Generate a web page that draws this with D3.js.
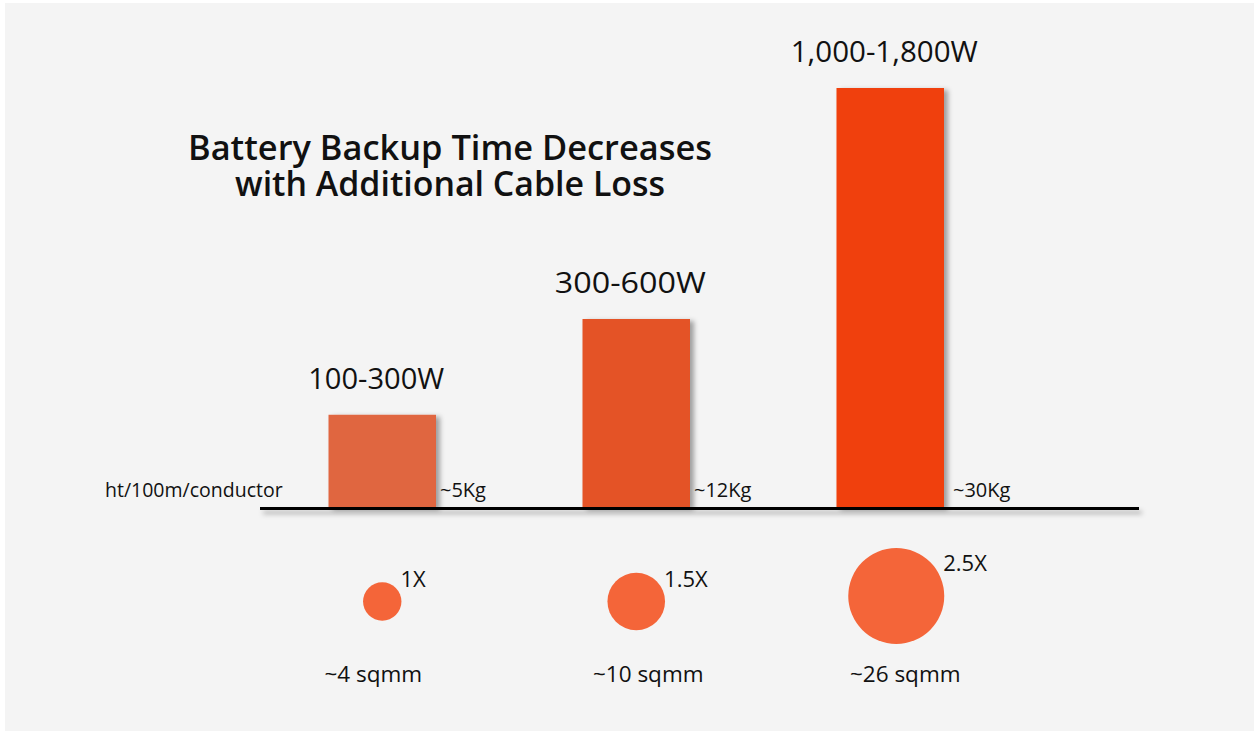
<!DOCTYPE html>
<html>
<head>
<meta charset="utf-8">
<script src="https://cdn.jsdelivr.net/npm/d3@7"></script>
<style>
  html, body { margin: 0; padding: 0; background: #ffffff; }
  svg { display: block; }
  text { font-family: "Open Sans", "Noto Sans", sans-serif; fill: #111111; }
</style>
</head>
<body>
<svg id="chart" width="1254" height="731"></svg>
<script>
// ---- data ----
const categories   = ["light", "medium", "heavy"];
const powerLabels  = ["100-300W", "300-600W", "1,000-1,800W"];
const relativeLoad = [222, 450, 1000];          // bar height, relative units
const weightLabels = ["~5Kg", "~12Kg", "~30Kg"];
const sizeFactor   = [1, 1.5, 2.5];             // conductor size multiplier
const factorLabels = ["1X", "1.5X", "2.5X"];
const areaLabels   = ["~4 sqmm", "~10 sqmm", "~26 sqmm"];
const titleLines   = ["Battery Backup Time Decreases", "with Additional Cable Loss"];
const axisLabel    = "ht/100m/conductor";

// ---- styles ----
const barColors   = ["#e06640", "#e45327", "#f0400a"];
const circleColor = "#f46539";

const svg = d3.select("#chart");
const W = 1254, H = 731;

// panel background
svg.append("rect").attr("x", 5).attr("y", 3).attr("width", W - 5).attr("height", H - 3)
  .attr("fill", "#f4f4f4");

// shadows
const defs = svg.append("defs");
const barShadow = defs.append("filter").attr("id", "barShadow")
  .attr("x", "-20%").attr("y", "-20%").attr("width", "150%").attr("height", "150%");
barShadow.append("feDropShadow").attr("dx", 4).attr("dy", 2).attr("stdDeviation", 2.5)
  .attr("flood-color", "#000").attr("flood-opacity", 0.35);
const lineShadow = defs.append("filter").attr("id", "lineShadow")
  .attr("filterUnits", "userSpaceOnUse")
  .attr("x", 240).attr("y", 490).attr("width", 930).attr("height", 40);
lineShadow.append("feDropShadow").attr("dx", 3).attr("dy", 4).attr("stdDeviation", 2.5)
  .attr("flood-color", "#000").attr("flood-opacity", 0.3);

// ---- scales ----
const x = d3.scaleBand().domain(categories).range([328.5, 944]).paddingInner(0.5768).paddingOuter(0);
const y = d3.scaleLinear().domain([0, 1000]).range([508, 88]);
const r = d3.scaleLinear().domain([0, 2.5]).range([0, 48]);
const mid = d => x(d.cat) + x.bandwidth() / 2;

const rows = categories.map((c, i) => ({
  cat: c, power: powerLabels[i], load: relativeLoad[i], weight: weightLabels[i],
  factor: sizeFactor[i], factorLabel: factorLabels[i], area: areaLabels[i], color: barColors[i]
}));

// ---- title (one text block, two lines) ----
const titleW = [524, 430];
svg.append("text")
  .attr("text-anchor", "middle")
  .attr("font-size", 35).attr("font-weight", 600)
  .selectAll("tspan").data(titleLines).join("tspan")
  .attr("x", 450).attr("y", (d, i) => 160 + i * 36)
  .attr("textLength", (d, i) => titleW[i]).attr("lengthAdjust", "spacingAndGlyphs")
  .text(d => d);

// ---- bars ----
svg.append("g").selectAll("rect").data(rows).join("rect")
  .attr("x", d => x(d.cat)).attr("y", d => y(d.load))
  .attr("width", x.bandwidth()).attr("height", d => y(0) - y(d.load))
  .attr("fill", d => d.color).attr("filter", "url(#barShadow)");

// baseline
svg.append("rect")
  .attr("x", 260).attr("y", y(0) - 1).attr("width", 879).attr("height", 3)
  .attr("fill", "#000").attr("filter", "url(#lineShadow)");

// power labels above bars
const powerW = [136, 151, 187];
svg.append("g").selectAll("text").data(rows).join("text")
  .attr("x", d => mid(d) - 6)
  .attr("y", d => y(d.load) - 26)
  .attr("text-anchor", "middle").attr("font-size", 30)
  .attr("textLength", (d, i) => powerW[i]).attr("lengthAdjust", "spacingAndGlyphs")
  .text(d => d.power);

// weight labels next to bars
svg.append("g").selectAll("text").data(rows).join("text")
  .attr("x", d => x(d.cat) + x.bandwidth() + (d.factor > 2 ? 9 : 4))
  .attr("y", 497)
  .attr("font-size", 20)
  .text(d => d.weight);

svg.append("text").attr("x", 105).attr("y", 497).attr("font-size", 19.5).text(axisLabel);

// ---- conductor circles ----
const cx = d => mid(d) + (d.factor > 2 ? 6 : 0);
const cy = d => (d.factor > 2 ? 596 : 601.5);
svg.append("g").selectAll("circle").data(rows).join("circle")
  .attr("cx", cx).attr("cy", cy)
  .attr("r", d => r(d.factor))
  .attr("fill", circleColor);

svg.append("g").selectAll("text").data(rows).join("text")
  .attr("x", d => cx(d) + r(d.factor) - 1)
  .attr("y", d => cy(d) - (d.factor > 2 ? 25 : 15))
  .attr("font-size", 22)
  .text(d => d.factorLabel);

svg.append("g").selectAll("text").data(rows).join("text")
  .attr("x", d => mid(d) + (d.factor > 2 ? 15 : d.factor > 1 ? 12 : -9))
  .attr("y", 682)
  .attr("text-anchor", "middle").attr("font-size", 22.5)
  .text(d => d.area);
</script>
</body>
</html>
